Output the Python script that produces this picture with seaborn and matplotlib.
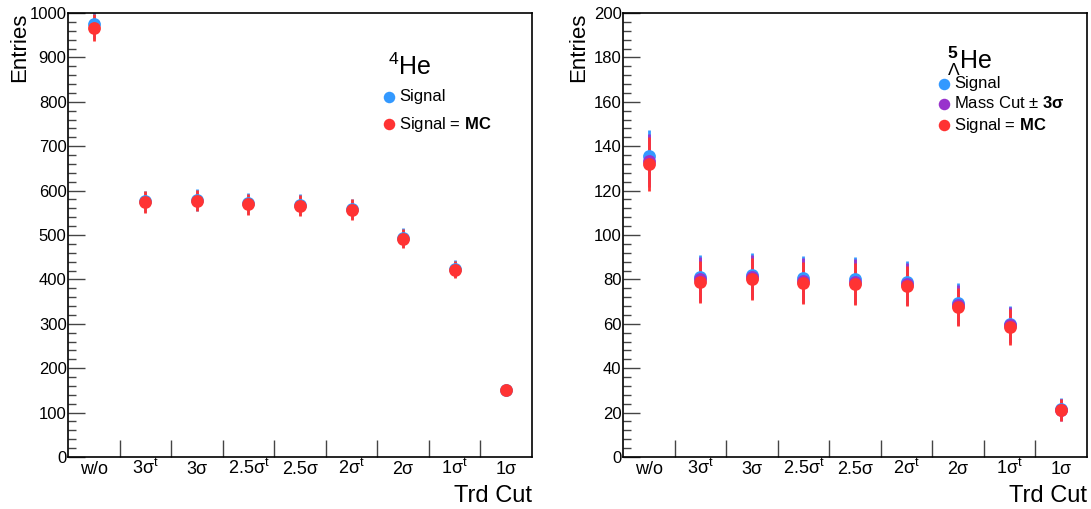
import numpy as np
import pandas as pd
import matplotlib
matplotlib.use("Agg")
import matplotlib.pyplot as plt
import seaborn as sns
from matplotlib.ticker import MultipleLocator, FixedLocator

sns.set_style("ticks")
plt.rcParams['font.family'] = ['Liberation Sans', 'DejaVu Sans']
plt.rcParams['mathtext.fontset'] = 'custom'
plt.rcParams['mathtext.rm'] = 'Liberation Sans'
plt.rcParams['mathtext.it'] = 'Liberation Sans:italic'
plt.rcParams['mathtext.bf'] = 'Liberation Sans:bold'
for k in ['text.color', 'axes.labelcolor', 'xtick.color', 'ytick.color']:
    plt.rcParams[k] = 'black'

# Data
cuts = ["w/o", "3σ$^{\\mathrm{t}}$", "3σ", "2.5σ$^{\\mathrm{t}}$", "2.5σ",
        "2σ$^{\\mathrm{t}}$", "2σ", "1σ$^{\\mathrm{t}}$", "1σ"]

he4_signal = [975, 576, 579, 571, 568, 559, 494, 424, 152]
he4_signal_err = [33, 24, 24, 24, 24, 23, 21, 19, 5]
he4_mc = [967, 574, 577, 569, 566, 557, 492, 422, 152]
he4_mc_err = [31, 24, 24, 24, 24, 23, 21, 19, 5]

hl_signal = [135.5, 81, 82, 80.5, 80, 79, 69.5, 60, 21.5]
hl_signal_err = [12, 10, 10, 10, 10, 9.5, 9, 8, 5]
hl_mass = [133.5, 80, 81, 79.5, 79, 78, 68.5, 59.5, 21.3]
hl_mass_err = [12, 10, 10, 10, 10, 9.5, 9, 8, 5]
hl_mc = [132, 79, 80, 78.5, 78, 77, 67.5, 58.5, 21]
hl_mc_err = [12, 9.5, 9.5, 9.5, 9.5, 9.2, 8.5, 8, 5]

BLUE = "#3399ff"
PURPLE = "#9933cc"
RED = "#ff3333"

fig = plt.figure(figsize=(10.91, 5.09), dpi=100)
W, H = 1091, 509
ax1 = fig.add_axes([68 / W, 52 / H, 464 / W, 444 / H])
ax2 = fig.add_axes([623 / W, 52 / H, 464 / W, 444 / H])

xpos = np.arange(len(cuts)) + 0.5


def draw_series(ax, vals, errs, color, label):
    df = pd.DataFrame({"x": xpos, "y": vals})
    ax.errorbar(xpos, vals, yerr=errs, fmt="none", ecolor=color, elinewidth=2, capsize=0, zorder=2)
    sns.scatterplot(data=df, x="x", y="y", ax=ax, color=color, s=85, linewidth=0,
                    label=label, zorder=3)


def style_axis(ax, ymax, major, minor, ylab_x):
    ax.set_xlim(0, len(cuts))
    ax.set_ylim(0, ymax)
    ax.yaxis.set_major_locator(MultipleLocator(major))
    ax.yaxis.set_minor_locator(MultipleLocator(minor))
    ax.xaxis.set_major_locator(FixedLocator(np.arange(1, len(cuts))))
    ax.xaxis.set_minor_locator(FixedLocator(xpos))
    ax.set_xticklabels([], minor=False)
    ax.set_xticklabels(cuts, minor=True, fontsize=13)
    for lab in ax.get_xticklabels(minor=True):
        lab.set_va("baseline")
    ax.tick_params(axis="x", which="major", direction="in", length=12, width=1, color="#444444")
    ax.tick_params(axis="x", which="minor", length=0, pad=12.3)
    ax.tick_params(axis="y", which="major", direction="in", length=12, width=1, color="#444444",
                   labelsize=12, pad=1)
    ax.tick_params(axis="y", which="minor", direction="in", length=6, width=1, color="#444444")
    for sp in ax.spines.values():
        sp.set_visible(True)
        sp.set_color("black")
        sp.set_linewidth(1.2)
    ax.set_xlabel("Trd Cut", fontsize=17, loc="right")
    ax.xaxis.set_label_coords(1.0, -0.062)
    ax.set_ylabel("Entries", fontsize=16, loc="top")
    ax.yaxis.set_label_coords(ylab_x, 1.0)


# Left: 4He
draw_series(ax1, he4_signal, he4_signal_err, BLUE, "Signal")
draw_series(ax1, he4_mc, he4_mc_err, RED, "Signal = $\\mathbf{MC}$")
style_axis(ax1, 1000, 100, 20, -0.082)
ax1.text(0.690, 0.860, "$^{4}$He", transform=ax1.transAxes, fontsize=18, va="baseline", ha="left")
ax1.legend(loc="upper left", bbox_to_anchor=(0.681, 0.829), frameon=False, fontsize=12,
           handlelength=0.6, handletextpad=0.3, labelspacing=0.64, borderpad=0, borderaxespad=0,
           markerscale=0.9)

# Right: 5/Lambda He
draw_series(ax2, hl_signal, hl_signal_err, BLUE, "Signal")
draw_series(ax2, hl_mass, hl_mass_err, PURPLE, "Mass Cut $\\pm$ $\\mathbf{3\\sigma}$")
draw_series(ax2, hl_mc, hl_mc_err, RED, "Signal = $\\mathbf{MC}$")
style_axis(ax2, 200, 20, 4, -0.072)
ax2.text(0.698, 0.874, "$^{\\mathbf{5}}_{\\Lambda}$He", transform=ax2.transAxes, fontsize=18,
         va="baseline", ha="left")
ax2.legend(loc="upper left", bbox_to_anchor=(0.681, 0.858), frameon=False, fontsize=12,
           handlelength=0.6, handletextpad=0.3, labelspacing=0.26, borderpad=0, borderaxespad=0,
           markerscale=0.9)

fig.savefig("out.png", dpi=100)
